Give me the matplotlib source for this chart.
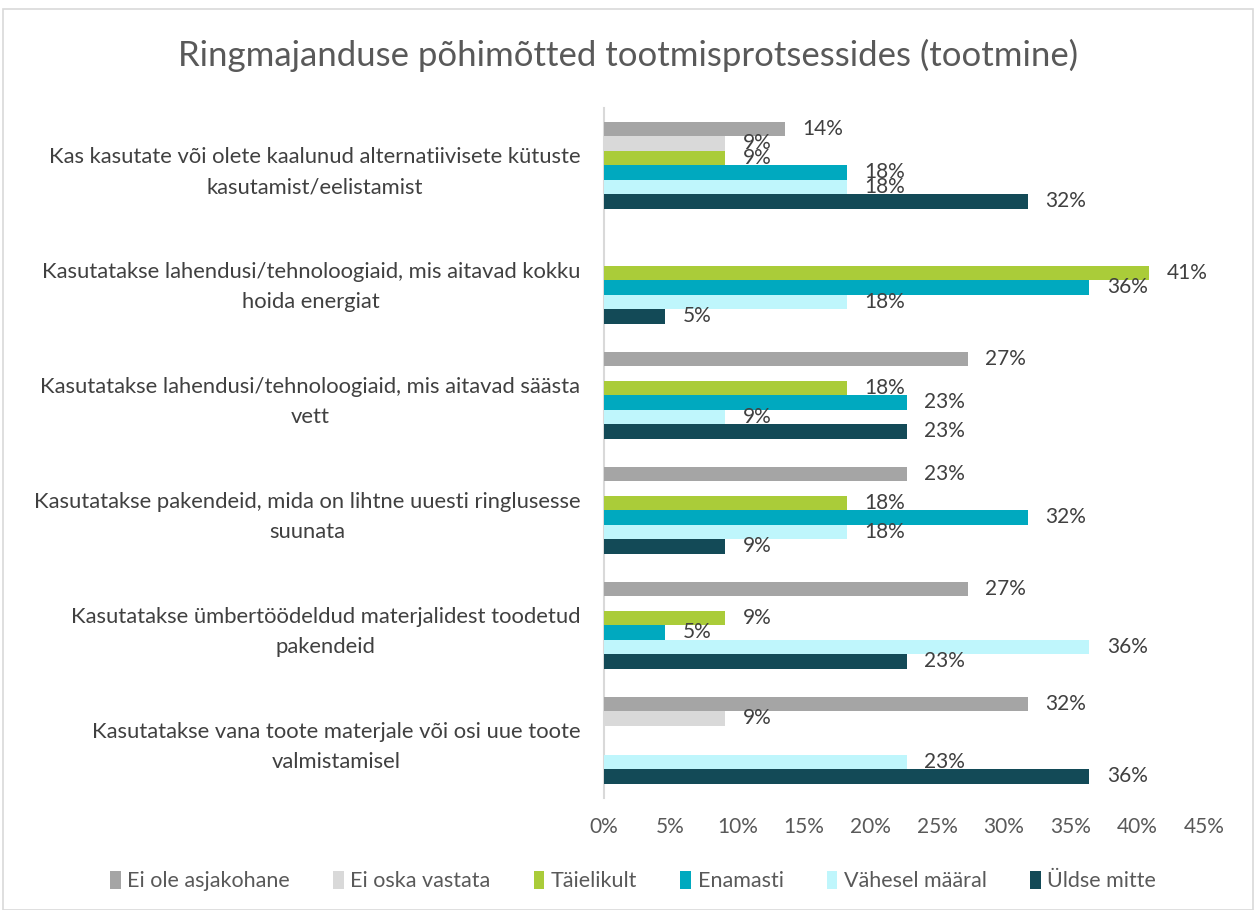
import numpy as np
import matplotlib
matplotlib.use("Agg")
import matplotlib.pyplot as plt
from matplotlib.patches import Rectangle

plt.rcParams['font.family'] = ['Lato', 'DejaVu Sans']

# survey answers, share of respondents (%)
categories = [
    "Kas kasutate või olete kaalunud alternatiivisete kütuste\nkasutamist/eelistamist",
    "Kasutatakse lahendusi/tehnoloogiaid, mis aitavad kokku\nhoida energiat",
    "Kasutatakse lahendusi/tehnoloogiaid, mis aitavad säästa\nvett",
    "Kasutatakse pakendeid, mida on lihtne uuesti ringlusesse\nsuunata",
    "Kasutatakse ümbertöödeldud materjalidest toodetud\npakendeid",
    "Kasutatakse vana toote materjale või osi uue toote\nvalmistamisel",
]
series = ["Ei ole asjakohane", "Ei oska vastata", "Täielikult",
          "Enamasti", "Vähesel määral", "Üldse mitte"]

ei_ole = [13.6, 0, 27.3, 22.7, 27.3, 31.8]
ei_oska = [9.1, 0, 0, 0, 0, 9.1]
taielikult = [9.1, 40.9, 18.2, 18.2, 9.1, 0]
enamasti = [18.2, 36.4, 22.7, 31.8, 4.6, 0]
vahesel = [18.2, 18.2, 9.1, 18.2, 36.4, 22.7]
uldse = [31.8, 4.6, 22.7, 9.1, 22.7, 36.4]
values = [ei_ole, ei_oska, taielikult, enamasti, vahesel, uldse]

colors = ["#A5A5A5", "#D9D9D9", "#AACC39", "#00A9BF", "#BFF6FC", "#134A57"]

fig = plt.figure(figsize=(12.57, 9.10), dpi=100)
ax = fig.add_axes([604/1257, 1 - 797.5/910, 600/1257, 690/910])

n = len(categories)
h = 14.5 / 115
y_center = np.arange(n)
for j, (name, vals, c) in enumerate(zip(series, values, colors)):
    y = y_center + (j - 2.5) * h
    ax.barh(y, vals, height=h, color=c, label=name, zorder=3 + 2*j)
    for yy, v in zip(y, vals):
        if v > 0:
            ax.text(v + 1.3, yy, f"{v:.0f}%", va="center", ha="left",
                    fontsize=15, color="#404040", zorder=4 + 2*j)

ax.set_ylim(n - 0.5, -0.5)
ax.set_xlim(0, 45)
ax.set_xticks(np.arange(0, 46, 5))
ax.set_xticklabels([f"{t}%" for t in range(0, 46, 5)], fontsize=15, color="#595959")
ax.tick_params(axis="x", length=0, pad=14)
ax.set_yticks(y_center)
ax.set_yticklabels(categories, fontsize=15.8, color="#404040", linespacing=1.65,
                   multialignment="center")
ax.tick_params(axis="y", length=0, pad=17)
for s in ["top", "right", "bottom"]:
    ax.spines[s].set_visible(False)
ax.spines["left"].set_color("#D9D9D9")
ax.spines["left"].set_linewidth(1.5)

fig.suptitle("Ringmajanduse põhimõtted tootmisprotsessides (tootmine)",
             y=1 - 55/910, va="center", fontsize=25, color="#595959")

fig.legend(loc="center", bbox_to_anchor=(633/1257, 1 - 881/910), ncol=6,
           frameon=False, fontsize=15.5, handlelength=0.5, handleheight=0.9,
           handletextpad=0.3, columnspacing=2.0, labelcolor="#595959")

fig.patches.append(Rectangle((3/1257, 0), 1250/1257, 1 - 9/910, transform=fig.transFigure,
                             fill=False, edgecolor="#D9D9D9", linewidth=1.2))

fig.savefig("out.png", dpi=100)
